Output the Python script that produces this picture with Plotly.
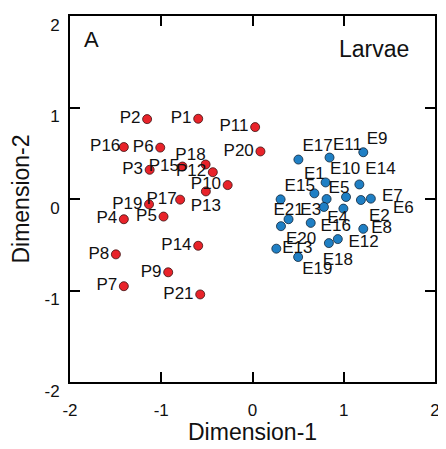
import plotly.graph_objects as go

# Pelagic (P) samples
p_names = ["P1", "P2", "P3", "P4", "P5", "P6", "P7", "P8", "P9", "P10", "P11",
           "P12", "P13", "P14", "P15", "P16", "P17", "P18", "P19", "P20", "P21"]
p_x = [-0.595, -1.155, -1.127, -1.410, -0.975, -1.011, -1.410, -1.497, -0.924, -0.272, 0.029,
       -0.435, -0.511, -0.595, -0.768, -1.410, -0.793, -0.514, -1.134, 0.087, -0.573]
p_y = [0.877, 0.873, 0.319, -0.221, -0.192, 0.562, -0.953, -0.605, -0.801, 0.152, 0.786,
       0.293, 0.083, -0.511, 0.355, 0.568, -0.007, 0.377, -0.058, 0.520, -1.043]

# Estuarine (E) samples
e_names = ["E17", "E11", "E9", "E10", "E14", "E1", "E5", "E7", "E2", "E16", "E15",
           "E4", "E6", "E21", "E3", "E20", "E8", "E18", "E12", "E13", "E19"]
e_x = [0.503, 0.844, 1.214, 0.801, 1.171, 0.678, 0.812, 1.025, 1.188, 1.297, 0.308,
       0.783, 0.996, 0.395, 0.638, 0.312, 1.214, 0.935, 0.837, 0.261, 0.500]
e_y = [0.431, 0.453, 0.511, 0.181, 0.159, 0.062, 0.000, 0.022, -0.011, 0.004, -0.004,
       -0.087, -0.105, -0.221, -0.261, -0.297, -0.326, -0.438, -0.482, -0.543, -0.634]

tick_vals = [-2, -1, 0, 1, 2]

# ---- label placement (style only): text position + invisible padding marker size ----
p_label_style = {"P18": ("top left", 0), "P13": ("bottom center", 10),
                 "P15": ("middle left", 4), "P17": ("middle left", 4), "P16": ("middle left", 4)}
p_pos = [p_label_style.get(n, ("middle left", 9))[0] for n in p_names]
p_pad = [p_label_style.get(n, ("middle left", 9))[1] for n in p_names]

e_label_style = {"E17": ("top right", 4.8), "E11": ("top right", 4.0), "E9": ("top right", 4.0),
                 "E10": ("top right", 5.6), "E14": ("top right", 8), "E1": ("top center", 14.8),
                 "E5": ("top right", 1.6), "E7": ("middle right", 56), "E2": ("bottom right", 11.2),
                 "E16": ("bottom left", 30.4), "E15": ("top right", 4.8), "E4": ("bottom right", 3.7),
                 "E6": ("middle right", 77.8), "E21": ("top center", 0), "E3": ("top center", 3.8),
                 "E20": ("bottom right", 6.4), "E8": ("middle right", 11), "E18": ("bottom center", 19.8),
                 "E12": ("middle right", 29.8), "E13": ("middle right", 7.8), "E19": ("bottom right", 4.8)}
e_pos = [e_label_style[n][0] for n in e_names]
e_pad = [e_label_style[n][1] for n in e_names]

FONT = "Liberation Sans, Arial, sans-serif"
LABEL_SIZE = 17
label_font = dict(family=FONT, size=LABEL_SIZE, color="#111")

fig = go.Figure()
# dots
fig.add_trace(go.Scatter(
    x=p_x, y=p_y, mode="markers", name="P",
    marker=dict(size=9, color="#e8232a", line=dict(color="#3a1010", width=0.8)),
    showlegend=False))
fig.add_trace(go.Scatter(
    x=e_x, y=e_y, mode="markers", name="E",
    marker=dict(size=9, color="#1f7fc4", line=dict(color="#10263a", width=0.8)),
    showlegend=False))
# labels (invisible markers only set the text padding)
fig.add_trace(go.Scatter(
    x=p_x, y=p_y, mode="markers+text", text=p_names, textposition=p_pos,
    marker=dict(size=p_pad, color="rgba(0,0,0,0)", line=dict(width=0)),
    textfont=label_font, cliponaxis=False, showlegend=False, hoverinfo="skip"))
fig.add_trace(go.Scatter(
    x=e_x, y=e_y, mode="markers+text", text=e_names, textposition=e_pos,
    marker=dict(size=e_pad, color="rgba(0,0,0,0)", line=dict(width=0)),
    textfont=label_font, cliponaxis=False, showlegend=False, hoverinfo="skip"))

axis_common = dict(range=[-2, 2], tickvals=tick_vals, ticktext=[str(v) for v in tick_vals],
                   ticks="inside", ticklen=10, tickwidth=2, tickcolor="black",
                   showline=True, linewidth=2, linecolor="black", mirror="ticks",
                   showgrid=False, zeroline=False,
                   tickfont=dict(family=FONT, size=17, color="#111"))

fig.update_xaxes(**axis_common, ticklabelstandoff=12)
fig.update_yaxes(**axis_common, ticklabelstandoff=5, ticklabelshift=9,
                 title=dict(text="Dimension-2", font=dict(family=FONT, size=23, color="#111"), standoff=12))

# x-axis title
fig.add_annotation(x=0.5, y=0, xref="paper", yref="paper", yshift=-50,
                   text="Dimension-1", showarrow=False, xanchor="center", yanchor="middle",
                   font=dict(family=FONT, size=23, color="#111"))
fig.add_annotation(x=0, y=1, xref="paper", yref="paper", xshift=12, yshift=-23,
                   text="A", showarrow=False, xanchor="left", yanchor="middle",
                   font=dict(family=FONT, size=22, color="#111"))
fig.add_annotation(x=1, y=1, xref="paper", yref="paper", xshift=-24, yshift=-33,
                   text="Larvae", showarrow=False, xanchor="right", yanchor="middle",
                   font=dict(family=FONT, size=23, color="#111"))

# page body has an 8px margin: shift the figure so the plot frame lands where the reference has it
fig.update_layout(width=438, height=441, margin=dict(l=62, r=8, t=6, b=67),
                  paper_bgcolor="white", plot_bgcolor="white",
                  font=dict(family=FONT))

fig.write_html("out.html")
